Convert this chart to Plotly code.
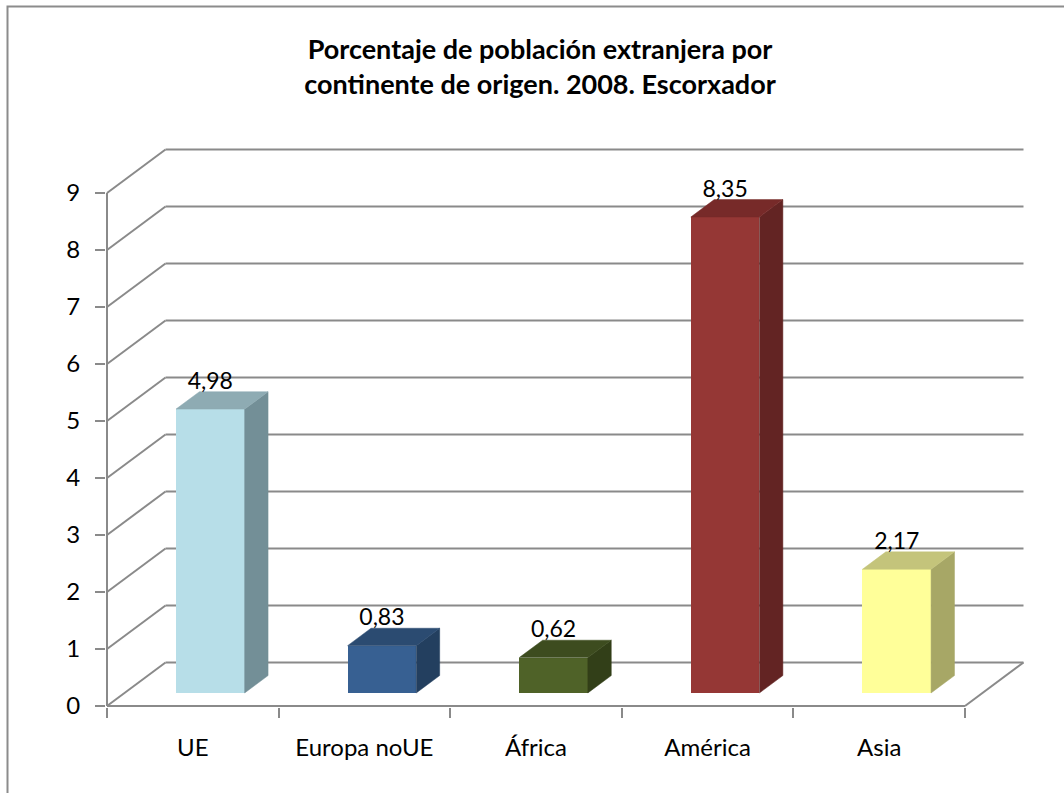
import plotly.graph_objects as go

# ---- data ----
categories = ["UE", "Europa noUE", "África", "América", "Asia"]
values = [4.98, 0.83, 0.62, 8.35, 2.17]
y_ticks = [0, 1, 2, 3, 4, 5, 6, 7, 8, 9]
title_lines = ["Porcentaje de población extranjera por", "continente de origen. 2008. Escorxador"]

front_colors = ["#B7DEE8", "#376092", "#4F6228", "#953735", "#FFFF99"]
side_colors = ["#738F97", "#233F5F", "#323F18", "#632423", "#A7A766"]
top_colors = ["#8EABB3", "#2B4B71", "#3D4C1F", "#772A29", "#C4C47B"]

# ---- layout geometry ----
W, H = 1064, 793
L, R, T, B = 106, 30, 142, 86
PXX, PXY = 171.6, 57.0           # pixels per x unit / per y unit
plotw, ploth = W - L - R, H - T - B
x_lo, y_lo = -1 / PXX, -1 / PXY
x_hi, y_hi = x_lo + plotw / PXX, y_lo + ploth / PXY

DX, DY = 58.5 / PXX, 43.5 / PXY   # depth vector of floor
F0, F1 = 0.3, 0.7                 # bar depth start/end (fraction)
BW = 0.4                          # bar width (category units)
n = len(categories)
grid_col = "#8A8A8A"
FONT = "Lato, 'Open Sans', sans-serif"

fig = go.Figure()

# front faces
xc = [i + 0.5 + F0 * DX for i in range(n)]
b0 = F0 * DY
fig.add_trace(go.Bar(
    x=xc, y=values, base=b0, width=BW,
    marker=dict(color=front_colors, line=dict(width=0)),
    hoverinfo="skip", showlegend=False,
))

ddx, ddy = (F1 - F0) * DX, (F1 - F0) * DY
for i, v in enumerate(values):
    xl, xr = xc[i] - BW / 2, xc[i] + BW / 2
    top = b0 + v
    # side face
    fig.add_trace(go.Scatter(
        x=[xr, xr + ddx, xr + ddx, xr, xr],
        y=[b0, b0 + ddy, top + ddy, top, b0],
        mode="lines", fill="toself", fillcolor=side_colors[i],
        line=dict(color=side_colors[i], width=0.5),
        hoverinfo="skip", showlegend=False,
    ))
    # top face
    fig.add_trace(go.Scatter(
        x=[xl, xr, xr + ddx, xl + ddx, xl],
        y=[top, top, top + ddy, top + ddy, top],
        mode="lines", fill="toself", fillcolor=top_colors[i],
        line=dict(color=top_colors[i], width=0.5),
        hoverinfo="skip", showlegend=False,
    ))

# value labels
fig.add_trace(go.Scatter(
    x=xc, y=[v + b0 + 26 / PXY for v in values],
    text=[f"{v:.2f}".replace(".", ",") for v in values],
    mode="text", textposition="middle center",
    textfont=dict(family=FONT, size=23, color="black"),
    hoverinfo="skip", showlegend=False, cliponaxis=False,
))

# walls / gridlines
shapes = []
def seg(x0, y0, x1, y1):
    shapes.append(dict(type="line", xref="x", yref="y", x0=x0, y0=y0, x1=x1, y1=y1,
                       line=dict(color=grid_col, width=2), layer="below"))
for k in y_ticks:
    seg(0, k, DX, k + DY)
    seg(DX, k + DY, n + DX, k + DY)
seg(n, 0, n + DX, DY)
seg(0, 0, n, 0)
seg(0, 0, 0, max(y_ticks))

# outer chart border
def px2paper_x(px):
    return (px - L) / plotw
def px2paper_y(py):
    return (H - B - py) / ploth
shapes.append(dict(type="rect", xref="paper", yref="paper",
                   x0=px2paper_x(7.5), y0=px2paper_y(812), x1=px2paper_x(1080), y1=px2paper_y(6.5),
                   line=dict(color="#8C8C8C", width=2), fillcolor="rgba(0,0,0,0)", layer="below"))

fig.update_layout(
    width=W, height=H,
    margin=dict(l=L, r=R, t=T, b=B, pad=0),
    paper_bgcolor="white", plot_bgcolor="white",
    shapes=shapes,
    title=dict(text="<b>" + "<br>".join(title_lines) + "</b>",
               xref="container", yref="container",
               x=540 / W, xanchor="center", y=1 - 59 / H, yanchor="middle",
               font=dict(family=FONT, size=27, color="black")),
    xaxis=dict(range=[x_lo, x_hi], showgrid=False, zeroline=False, showline=False,
               tickvals=[i + 0.5 for i in range(n)], ticktext=categories, ticks="",
               ticklabelstandoff=24,
               tickfont=dict(family=FONT, size=24, color="black"),
               minor=dict(tickvals=list(range(n + 1)), ticks="outside", ticklen=10,
                          tickwidth=2, tickcolor=grid_col),
               fixedrange=True),
    yaxis=dict(range=[y_lo, y_hi], showgrid=False, zeroline=False, showline=False,
               tickvals=y_ticks, ticktext=[str(t) for t in y_ticks],
               ticks="outside", ticklen=10, tickwidth=2, tickcolor=grid_col,
               ticklabelstandoff=10,
               tickfont=dict(family=FONT, size=24, color="black"),
               fixedrange=True),
    bargap=0,
    showlegend=False,
)

fig.write_html("out.html", config={"displayModeBar": False},
               post_script="document.body.style.margin='0px';document.body.style.overflow='hidden';")
